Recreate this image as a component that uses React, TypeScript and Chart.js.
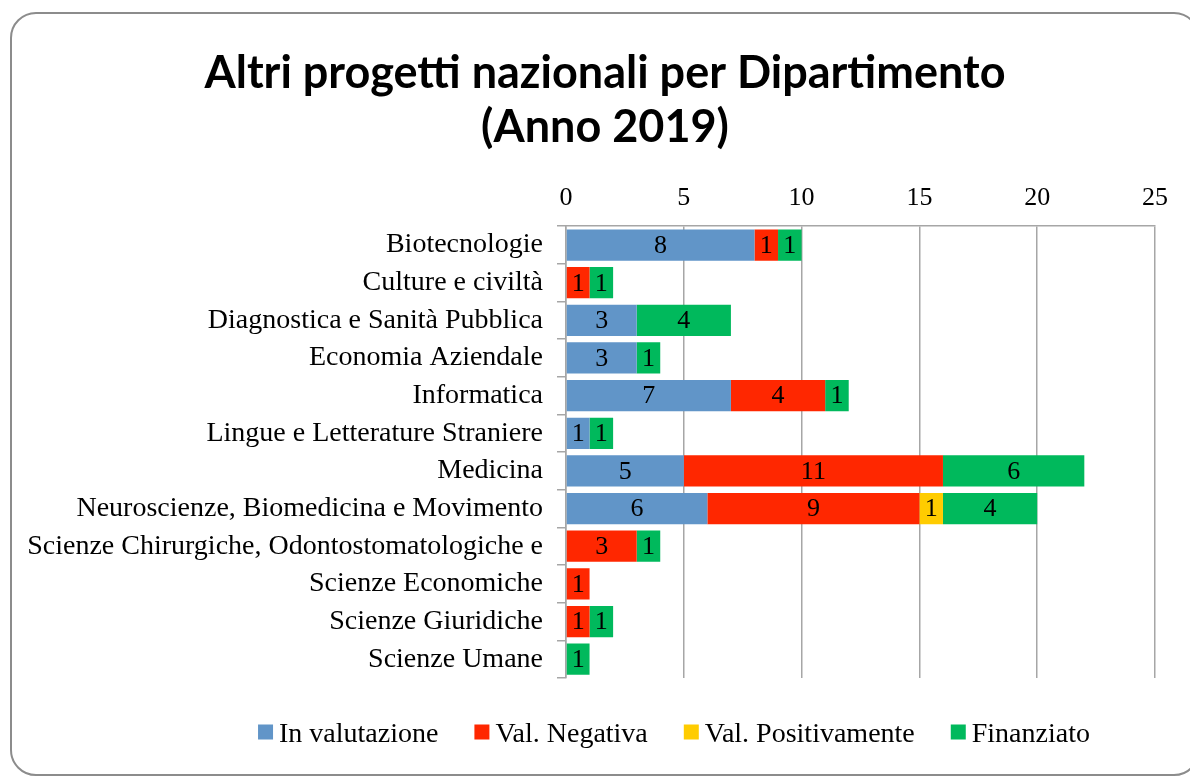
import React, { useEffect, useRef } from "react";
import { Chart, registerables } from "chart.js";

Chart.register(...registerables);

const categories = [
  "Biotecnologie",
  "Culture e civiltà",
  "Diagnostica e Sanità Pubblica",
  "Economia Aziendale",
  "Informatica",
  "Lingue e Letterature Straniere",
  "Medicina",
  "Neuroscienze, Biomedicina e Movimento",
  "Scienze Chirurgiche, Odontostomatologiche e",
  "Scienze Economiche",
  "Scienze Giuridiche",
  "Scienze Umane",
];

const inValutazione = [8, null, 3, 3, 7, 1, 5, 6, null, null, null, null];
const valNegativa = [1, 1, null, null, 4, null, 11, 9, 3, 1, 1, null];
const valPositivamente = [null, null, null, null, null, null, null, 1, null, null, null, null];
const finanziato = [1, 1, 4, 1, 1, 1, 6, 4, 1, null, 1, 1];

const xTicks = [0, 5, 10, 15, 20, 25];

const titleLines = ["Altri progetti nazionali per Dipartimento", "(Anno 2019)"];

const SERIF = "'Liberation Serif', serif";

const dataLabelPlugin = {
  id: "dataLabels",
  afterDatasetsDraw(chart: any) {
    const ctx = chart.ctx;
    ctx.save();
    ctx.font = `26px ${SERIF}`;
    ctx.fillStyle = "#000";
    ctx.textAlign = "center";
    ctx.textBaseline = "middle";
    chart.data.datasets.forEach((ds: any, i: number) => {
      const meta = chart.getDatasetMeta(i);
      meta.data.forEach((el: any, j: number) => {
        const v = ds.data[j];
        if (v == null || v === 0) return;
        const c = el.getCenterPoint();
        ctx.fillText(String(v), c.x, c.y + 1);
      });
    });
    ctx.restore();
  },
};

const titleLegendPlugin = {
  id: "titleLegend",
  afterDraw(chart: any) {
    const ctx = chart.ctx;
    ctx.save();
    // title
    ctx.font = `bold 45px Lato, sans-serif`;
    ctx.fillStyle = "#000";
    ctx.textAlign = "center";
    ctx.textBaseline = "alphabetic";
    ctx.fillText(titleLines[0], 605, 88);
    ctx.fillText(titleLines[1], 605, 142);

    // legend
    ctx.font = `28px ${SERIF}`;
    const box = 15;
    const gapText = 6;
    const gapItem = 36;
    const items = chart.data.datasets.map((ds: any) => ({
      label: ds.label,
      color: ds.backgroundColor,
      w: box + gapText + ctx.measureText(ds.label).width,
    }));
    const total = items.reduce((a: number, it: any) => a + it.w, 0) + gapItem * (items.length - 1);
    let x = 674 - total / 2;
    const cy = 732;
    ctx.textAlign = "left";
    ctx.textBaseline = "alphabetic";
    items.forEach((it: any) => {
      ctx.fillStyle = it.color;
      ctx.fillRect(x, cy - box / 2, box, box);
      ctx.fillStyle = "#000";
      ctx.fillText(it.label, x + box + gapText, 742);
      x += it.w + gapItem;
    });
    ctx.restore();
  },
};

export default function App() {
  const ref = useRef<HTMLCanvasElement>(null);
  useEffect(() => {
    if (!ref.current) return;
    const chart = new Chart(ref.current, {
      type: "bar",
      data: {
        labels: categories,
        datasets: [
          { label: "In valutazione", data: inValutazione, backgroundColor: "#6195C8" },
          { label: "Val. Negativa", data: valNegativa, backgroundColor: "#FF2700" },
          { label: "Val. Positivamente", data: valPositivamente, backgroundColor: "#FFCC00" },
          { label: "Finanziato", data: finanziato, backgroundColor: "#00B95C" },
        ],
      },
      options: {
        indexAxis: "y",
        animation: false,
        responsive: false,
        maintainAspectRatio: false,
        layout: { padding: { left: 20, right: 35, top: 171, bottom: 100 } },
        datasets: { bar: { barPercentage: 0.83, categoryPercentage: 1 } },
        scales: {
          x: {
            position: "top",
            stacked: true,
            min: 0,
            max: 25,
            afterBuildTicks: (s: any) => {
              s.ticks = xTicks.map((v) => ({ value: v }));
            },
            ticks: { font: { family: SERIF, size: 26 }, color: "#000", padding: 12 },
            grid: { color: "#a6a6a6", lineWidth: 1.5, drawTicks: false },
            border: { color: "#a6a6a6", width: 1.5 },
          },
          y: {
            stacked: true,
            afterFit: (s: any) => {
              s.width = 566 - 20;
            },
            ticks: { font: { family: SERIF, size: 28 }, color: "#000", padding: 14 },
            grid: { drawOnChartArea: false, drawTicks: true, tickLength: 9, color: "#a6a6a6", lineWidth: 1.5, offset: true },
            border: { color: "#a6a6a6", width: 1.5 },
          },
        },
        plugins: {
          title: { display: false },
          legend: { display: false },
          tooltip: { enabled: false },
        },
      },
      plugins: [dataLabelPlugin, titleLegendPlugin],
    });
    return () => chart.destroy();
  }, []);

  return (
    <div style={{ position: "fixed", left: 0, top: 0, width: 1190, height: 778, background: "#fff" }}>
      <div
        style={{
          position: "absolute",
          left: 10,
          top: 12,
          width: 1190,
          height: 764,
          border: "2px solid #8c8c8c",
          borderRadius: 26,
          boxSizing: "border-box",
        }}
      />
      <canvas ref={ref} width={1190} height={778} style={{ position: "absolute", left: 0, top: 0 }} />
    </div>
  );
}
